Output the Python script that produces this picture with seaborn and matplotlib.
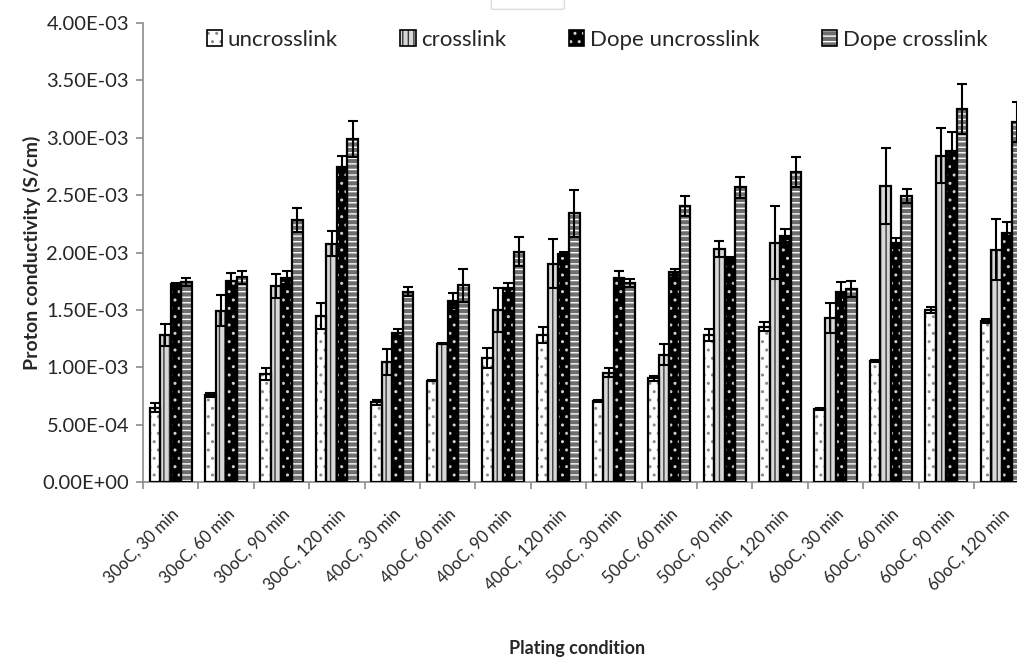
import numpy as np
import pandas as pd
import matplotlib
matplotlib.use("Agg")
import matplotlib.pyplot as plt
import seaborn as sns
from matplotlib.patches import Patch, Rectangle, FancyBboxPatch
from matplotlib.legend_handler import HandlerTuple
from matplotlib.ticker import FuncFormatter, FixedLocator

# Plating conditions (temperature, time)
conditions = [
    "30oC, 30 min", "30oC, 60 min", "30oC, 90 min", "30oC, 120 min",
    "40oC, 30 min", "40oC, 60 min", "40oC, 90 min", "40oC, 120 min",
    "50oC, 30 min", "50oC, 60 min", "50oC, 90 min", "50oC, 120 min",
    "60oC, 30 min", "60oC, 60 min", "60oC, 90 min", "60oC, 120 min",
]
series = ["uncrosslink", "crosslink", "Dope uncrosslink", "Dope crosslink"]

# Proton conductivity (S/cm), mean values
uncrosslink = [0.647e-3, 0.758e-3, 0.941e-3, 1.444e-3, 0.694e-3, 0.883e-3, 1.078e-3, 1.281e-3,
               0.706e-3, 0.904e-3, 1.281e-3, 1.354e-3, 0.636e-3, 1.054e-3, 1.499e-3, 1.403e-3]
crosslink = [1.281e-3, 1.493e-3, 1.711e-3, 2.077e-3, 1.049e-3, 1.205e-3, 1.499e-3, 1.903e-3,
             0.953e-3, 1.110e-3, 2.031e-3, 2.086e-3, 1.429e-3, 2.580e-3, 2.844e-3, 2.025e-3]
dope_uncrosslink = [1.725e-3, 1.754e-3, 1.781e-3, 2.748e-3, 1.298e-3, 1.580e-3, 1.688e-3, 1.987e-3,
                    1.775e-3, 1.830e-3, 1.943e-3, 2.147e-3, 1.653e-3, 2.086e-3, 2.885e-3, 2.170e-3]
dope_crosslink = [1.740e-3, 1.784e-3, 2.286e-3, 2.986e-3, 1.659e-3, 1.714e-3, 2.007e-3, 2.341e-3,
                  1.737e-3, 2.405e-3, 2.568e-3, 2.704e-3, 1.682e-3, 2.492e-3, 3.251e-3, 3.135e-3]

# Standard deviations
err_uncrosslink = [0.040e-3, 0.020e-3, 0.052e-3, 0.113e-3, 0.020e-3, 0.004e-3, 0.087e-3, 0.073e-3,
                   0.012e-3, 0.020e-3, 0.049e-3, 0.038e-3, 0.008e-3, 0.008e-3, 0.026e-3, 0.015e-3]
err_crosslink = [0.093e-3, 0.134e-3, 0.105e-3, 0.108e-3, 0.113e-3, 0.004e-3, 0.189e-3, 0.212e-3,
                 0.038e-3, 0.090e-3, 0.070e-3, 0.320e-3, 0.128e-3, 0.334e-3, 0.238e-3, 0.264e-3]
err_dope_uncrosslink = [0.012e-3, 0.064e-3, 0.055e-3, 0.093e-3, 0.038e-3, 0.064e-3, 0.044e-3, 0.020e-3,
                        0.064e-3, 0.026e-3, 0.020e-3, 0.055e-3, 0.087e-3, 0.044e-3, 0.166e-3, 0.099e-3]
err_dope_crosslink = [0.035e-3, 0.055e-3, 0.105e-3, 0.157e-3, 0.038e-3, 0.142e-3, 0.125e-3, 0.206e-3,
                      0.035e-3, 0.090e-3, 0.093e-3, 0.131e-3, 0.073e-3, 0.058e-3, 0.221e-3, 0.174e-3]

y_ticks = [0.0, 0.5e-3, 1.0e-3, 1.5e-3, 2.0e-3, 2.5e-3, 3.0e-3, 3.5e-3, 4.0e-3]

values = [uncrosslink, crosslink, dope_uncrosslink, dope_crosslink]
errors = [err_uncrosslink, err_crosslink, err_dope_uncrosslink, err_dope_crosslink]

df = pd.DataFrame({
    "condition": np.tile(conditions, len(series)),
    "series": np.repeat(series, len(conditions)),
    "value": np.concatenate(values),
})

# fill colour, hatch pattern, hatch colour for each series
styles = {
    "uncrosslink": ("white", "..", "#8a8a8a"),
    "crosslink": ("#d8d8d8", "|||", "#3a3a3a"),
    "Dope uncrosslink": ("black", "..", "#d0d0d0"),
    "Dope crosslink": ("#6e6e6e", "---", "white"),
}

sns.set_theme(style="white")
plt.rcParams["font.family"] = ["Lato", "DejaVu Sans"]
plt.rcParams["hatch.linewidth"] = 1.0

fig = plt.figure(figsize=(10.17, 6.67), dpi=100)
ax = fig.add_axes([0.1406, 0.2774, 0.8716, 0.688])

# empty chart-title box peeking in at the top edge
fig.patches.append(FancyBboxPatch((0.485, 0.988), 0.068, 0.03, boxstyle="round,pad=0.002",
                                  transform=fig.transFigure, facecolor="white",
                                  edgecolor="#dcdcdc", linewidth=1.0))

sns.barplot(data=df, x="condition", y="value", hue="series", order=conditions,
            hue_order=series, width=0.76, errorbar=None, legend=False, ax=ax,
            saturation=1)

for name, cont, err in zip(series, ax.containers, errors):
    face, hatch, hcol = styles[name]
    xs, hs = [], []
    for p in cont.patches:
        p.set_facecolor(face)
        p.set_hatch(hatch)
        p.set_edgecolor(hcol)
        p.set_linewidth(0)
        ax.add_patch(Rectangle(p.get_xy(), p.get_width(), p.get_height(),
                               fill=False, edgecolor="black", linewidth=1.6, zorder=3))
        xs.append(p.get_x() + p.get_width() / 2)
        hs.append(p.get_height())
    ax.errorbar(xs, hs, yerr=err, fmt="none", ecolor="black", elinewidth=1.5,
                capsize=3.8, capthick=1.5, zorder=4)

ax.set_ylim(0, 4.0e-3)
ax.set_xlim(-0.5, len(conditions) - 0.5)
ax.yaxis.set_major_locator(FixedLocator(y_ticks))
ax.yaxis.set_major_formatter(FuncFormatter(lambda v, _: f"{v:.2E}"))

# category separators as tick marks on the x axis
ax.set_xticks(np.arange(len(conditions)))
ax.set_xticklabels(conditions, rotation=45, ha="right", rotation_mode="anchor", fontsize=12)
ax.set_xticks(np.arange(len(conditions) + 1) - 0.5, minor=True)
ax.tick_params(axis="x", which="major", length=0, pad=17)
ax.tick_params(axis="x", which="minor", length=5, width=1.2, color="#8c8c8c", direction="out", bottom=True)
ax.tick_params(axis="y", length=5, width=1.2, color="#8c8c8c", direction="out", left=True,
               labelsize=14.5, pad=5)

for s in ["top", "right"]:
    ax.spines[s].set_visible(False)
for s in ["left", "bottom"]:
    ax.spines[s].set_color("#8c8c8c")
    ax.spines[s].set_linewidth(1.2)

ax.set_xlabel("Plating condition", fontsize=13, fontweight="bold")
ax.xaxis.set_label_coords(0.49, -0.345)
ax.set_ylabel("Proton conductivity (S/cm)", fontsize=14, fontweight="bold", labelpad=1)
ax.grid(False)

handles = []
for name in series:
    face, hatch, hcol = styles[name]
    handles.append((Patch(facecolor=face, hatch=hatch, edgecolor=hcol, linewidth=0),
                    Patch(fill=False, edgecolor="black", linewidth=1.2)))
fig.legend(handles, series, loc="center", bbox_to_anchor=(0.587, 0.94), ncol=4,
           frameon=False, fontsize=16, handlelength=0.7, handleheight=0.7,
           handletextpad=0.25, columnspacing=2.8,
           handler_map={tuple: HandlerTuple(ndivide=1)})

fig.savefig("out.png", dpi=100)
